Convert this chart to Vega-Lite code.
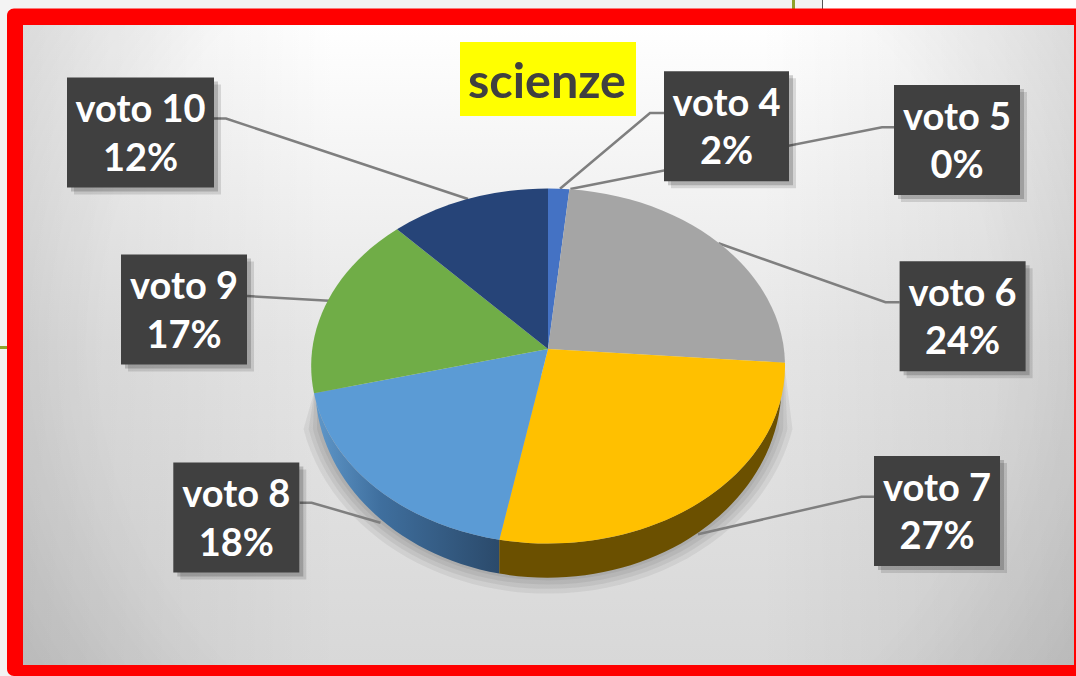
{
"$schema":"https://vega.github.io/schema/vega-lite/v6.json",
"width":1076,"height":676,
"autosize":{"type":"fit","contains":"padding"},
"padding":0,
"background":"#f3f3f3",
"config":{"view":{"stroke":null},"axis":{"disable":true}},
"datasets":{
"voti":[
{"voto":"voto 4","pct":0.02},
{"voto":"voto 5","pct":0},
{"voto":"voto 6","pct":0.24},
{"voto":"voto 7","pct":0.27},
{"voto":"voto 8","pct":0.18},
{"voto":"voto 9","pct":0.17},
{"voto":"voto 10","pct":0.12}
],
"richiami":[
{"voto":"voto 10","nodo":1},{"voto":"voto 10","nodo":2},{"voto":"voto 10","nodo":3},
{"voto":"voto 9","nodo":4},{"voto":"voto 9","nodo":5},
{"voto":"voto 8","nodo":6},{"voto":"voto 8","nodo":7},{"voto":"voto 8","nodo":8},
{"voto":"voto 4","nodo":9},{"voto":"voto 4","nodo":10},{"voto":"voto 4","nodo":11},
{"voto":"voto 5","nodo":12},{"voto":"voto 5","nodo":13},{"voto":"voto 5","nodo":14},
{"voto":"voto 6","nodo":15},{"voto":"voto 6","nodo":16},{"voto":"voto 6","nodo":17},
{"voto":"voto 7","nodo":18},{"voto":"voto 7","nodo":19},{"voto":"voto 7","nodo":20}
],
"titolo":[{"titolo":"scienze"}]
},
"data":{"name":"voti"},
"resolve":{"scale":{"x":"independent","y":"independent","shape":"independent","fill":"independent"}},
"layer":[
{"data":{"name":"titolo"},"mark":{"type":"rect","color":"#ffffff"},
 "encoding":{"x":{"datum":823,"type":"quantitative","scale":{"domain":[0,1076],"range":[0,1076]}},"x2":{"datum":1076},
 "y":{"datum":0,"type":"quantitative","scale":{"domain":[0,676],"range":[0,676]}},"y2":{"datum":10}}},
{"data":{"name":"titolo"},"mark":{"type":"rect","color":"#8fa32a"},
 "encoding":{"x":{"datum":792,"type":"quantitative","scale":{"domain":[0,1076],"range":[0,1076]}},"x2":{"datum":795},
 "y":{"datum":0,"type":"quantitative","scale":{"domain":[0,676],"range":[0,676]}},"y2":{"datum":10}}},
{"data":{"name":"titolo"},"mark":{"type":"rect","color":"#555555"},
 "encoding":{"x":{"datum":822,"type":"quantitative","scale":{"domain":[0,1076],"range":[0,1076]}},"x2":{"datum":823},
 "y":{"datum":0,"type":"quantitative","scale":{"domain":[0,676],"range":[0,676]}},"y2":{"datum":10}}},
{"data":{"name":"titolo"},"mark":{"type":"rect","color":"#8fa32a"},
 "encoding":{"x":{"datum":0,"type":"quantitative","scale":{"domain":[0,1076],"range":[0,1076]}},"x2":{"datum":8},
 "y":{"datum":346,"type":"quantitative","scale":{"domain":[0,676],"range":[0,676]}},"y2":{"datum":349}}},
{"data":{"name":"titolo"},"mark":{"type":"rect","color":"#ff0000","cornerRadiusTopLeft":7,"cornerRadiusBottomLeft":7},
 "encoding":{"x":{"datum":7,"type":"quantitative","scale":{"domain":[0,1076],"range":[0,1076]}},"x2":{"datum":1076},
 "y":{"datum":8.5,"type":"quantitative","scale":{"domain":[0,676],"range":[0,676]}},"y2":{"datum":676}}},
{"data":{"name":"titolo"},"mark":{"type":"rect","color":{"gradient":"linear","x1":0,"y1":0,"x2":0,"y2":1,"stops":[{"offset":0,"color":"#ffffff"},{"offset":0.5,"color":"#e6e6e6"},{"offset":1,"color":"#d8d8d8"}]}},
 "encoding":{"x":{"datum":23,"type":"quantitative","scale":{"domain":[0,1076],"range":[0,1076]}},"x2":{"datum":1074},
 "y":{"datum":25,"type":"quantitative","scale":{"domain":[0,676],"range":[0,676]}},"y2":{"datum":665}}},
{"data":{"name":"titolo"},"mark":{"type":"rect","color":{"gradient":"linear","x1":0,"y1":0,"x2":1,"y2":0,"stops":[{"offset":0,"color":"rgba(0,0,0,0.08)"},{"offset":0.3,"color":"rgba(0,0,0,0)"},{"offset":0.7,"color":"rgba(0,0,0,0)"},{"offset":1,"color":"rgba(0,0,0,0.08)"}]}},
 "encoding":{"x":{"datum":23,"type":"quantitative","scale":{"domain":[0,1076],"range":[0,1076]}},"x2":{"datum":1074},
 "y":{"datum":25,"type":"quantitative","scale":{"domain":[0,676],"range":[0,676]}},"y2":{"datum":665}}},
{"data":{"name":"titolo"},"mark":{"type":"rect","color":{"gradient":"radial","x1":0.5,"y1":0.5,"r1":0,"x2":0.5,"y2":0.5,"r2":0.71,"stops":[{"offset":0.6,"color":"rgba(0,0,0,0)"},{"offset":1,"color":"rgba(0,0,0,0.12)"}]}},
 "encoding":{"x":{"datum":23,"type":"quantitative","scale":{"domain":[0,1076],"range":[0,1076]}},"x2":{"datum":1074},
 "y":{"datum":25,"type":"quantitative","scale":{"domain":[0,676],"range":[0,676]}},"y2":{"datum":665}}},
{"transform":[{"filter":"datum.voto === 'voto 7'"}],
 "mark":{"type":"point","filled":true,"opacity":0.06,"strokeWidth":0,"size":4,"color":"#000000",
 "shape":"M-233,40 L-244.5,80 A250,208 0 0 0 244.5,80 L236,12 Z"},
 "encoding":{"x":{"datum":548,"type":"quantitative","scale":{"domain":[0,1076],"range":[0,1076]}},"y":{"datum":349,"type":"quantitative","scale":{"domain":[0,676],"range":[0,676]}}}},
{"transform":[{"filter":"datum.voto === 'voto 7'"}],
 "mark":{"type":"point","filled":true,"opacity":0.06,"strokeWidth":0,"size":4,"color":"#000000",
 "shape":"M-233,40 L-239.4,80 A245,203 0 0 0 239.4,80 L236,12 Z"},
 "encoding":{"x":{"datum":548,"type":"quantitative","scale":{"domain":[0,1076],"range":[0,1076]}},"y":{"datum":349,"type":"quantitative","scale":{"domain":[0,676],"range":[0,676]}}}},
{"transform":[{"filter":"datum.voto === 'voto 7'"}],
 "mark":{"type":"point","filled":true,"opacity":0.06,"strokeWidth":0,"size":4,"color":"#000000",
 "shape":"M-233,40 L-235.2,80 A241,199 0 0 0 235.2,80 L236,12 Z"},
 "encoding":{"x":{"datum":548,"type":"quantitative","scale":{"domain":[0,1076],"range":[0,1076]}},"y":{"datum":349,"type":"quantitative","scale":{"domain":[0,676],"range":[0,676]}}}},
{"transform":[{"filter":"datum.voto === 'voto 7'"}],
 "mark":{"type":"point","filled":true,"opacity":0.06,"strokeWidth":0,"size":4,"color":"#000000",
 "shape":"M-231,40 L-231,80 A237,195 0 0 0 231,80 L231,12 Z"},
 "encoding":{"x":{"datum":548,"type":"quantitative","scale":{"domain":[0,1076],"range":[0,1076]}},"y":{"datum":349,"type":"quantitative","scale":{"domain":[0,676],"range":[0,676]}}}},
{"data":{"name":"richiami"},"mark":{"type":"line","color":"#7f7f7f","strokeWidth":2.5},
 "encoding":{
 "x":{"field":"nodo","type":"quantitative","scale":{"domain":[1,2,3,4,5,6,7,8,9,10,11,12,13,14,15,16,17,18,19,20],"range":[214,226,468,247,329,299.6,311.6,380.5,664,650,560,894,882,570.4,899.6,885.5,718.5,874,861.4,698]}},
 "y":{"field":"nodo","type":"quantitative","scale":{"domain":[1,2,3,4,5,6,7,8,9,10,11,12,13,14,15,16,17,18,19,20],"range":[118.5,118.5,199,296,300.7,502.7,502.7,522.7,113,113,188.7,127.3,127.3,189,302.3,302.3,243.3,496.7,496.7,534.3]}},
 "detail":{"field":"voto"},"order":{"field":"nodo"}}},
{"transform":[{"filter":"datum.voto === 'voto 8'"}],
 "mark":{"type":"point","filled":true,"opacity":1,"strokeWidth":0,"size":4,
 "shape":"M-232,53 A237,177.5 0 0 0 -48.7,190.7 L-48.7,224.6 A234,192 0 0 1 -232,53 Z",
 "fill":{"gradient":"linear","x1":0,"y1":0,"x2":1,"y2":0,"stops":[{"offset":0,"color":"#5f97c9"},{"offset":0.35,"color":"#3f6f9e"},{"offset":1,"color":"#2b4a6b"}]}},
 "encoding":{"x":{"datum":548,"type":"quantitative","scale":{"domain":[0,1076],"range":[0,1076]}},"y":{"datum":349,"type":"quantitative","scale":{"domain":[0,676],"range":[0,676]}}}},
{"transform":[{"filter":"datum.voto === 'voto 7'"}],
 "mark":{"type":"point","filled":true,"opacity":1,"strokeWidth":0,"size":4,
 "shape":"M-48.7,190.7 A237,177.5 0 0 0 233,49.5 A234,192 0 0 1 -48.7,224.6 Z",
 "fill":"#6b5000"},
 "encoding":{"x":{"datum":548,"type":"quantitative","scale":{"domain":[0,1076],"range":[0,1076]}},"y":{"datum":349,"type":"quantitative","scale":{"domain":[0,676],"range":[0,676]}}}},
{"transform":[{"filter":"datum.pct > 0"}],
 "mark":{"type":"point","filled":true,"opacity":1,"strokeWidth":0,"size":4},
 "encoding":{
 "x":{"datum":548,"type":"quantitative","scale":{"domain":[0,1076],"range":[0,1076]}},
 "y":{"datum":349,"type":"quantitative","scale":{"domain":[0,676],"range":[0,676]}},
 "fill":{"field":"voto","type":"nominal","legend":null,"scale":{"domain":["voto 4","voto 6","voto 7","voto 8","voto 9","voto 10"],"range":["#4472c4","#a5a5a5","#ffc000","#5b9bd5","#70ad47","#264478"]}},
 "shape":{"field":"voto","type":"nominal","legend":null,"scale":{"domain":["voto 4","voto 6","voto 7","voto 8","voto 9","voto 10"],"range":[
 "M0,0 L0,-160.5 A237,177.5 0 0 1 21.4,-159.8 Z",
 "M0,0 L21.4,-159.8 A237,177.5 0 0 1 237,13.7 Z",
 "M0,0 L237,13.7 A237,177.5 0 0 1 -48.7,190.7 Z",
 "M0,0 L-48.7,190.7 A237,177.5 0 0 1 -234,44.3 Z",
 "M0,0 L-234,44.3 A237,177.5 0 0 1 -151,-119.7 Z",
 "M0,0 L-151,-119.7 A237,177.5 0 0 1 0,-160.5 Z"]}}}},
{"mark":{"type":"point","filled":true,"opacity":0.12,"strokeWidth":0,"size":4,"color":"#000000","xOffset":7,"yOffset":7},
 "encoding":{
 "x":{"field":"pct","type":"quantitative","scale":{"domain":[0,0.02,0.12,0.17,0.18,0.24,0.27],"range":[957,726.5,140.5,184,236.3,962.6,937]}},
 "y":{"field":"pct","type":"quantitative","scale":{"domain":[0,0.02,0.12,0.17,0.18,0.24,0.27],"range":[140,126.3,132.5,309.5,517.5,316.3,511]}},
 "shape":{"field":"voto","type":"nominal","legend":null,"scale":{"domain":["voto 4","voto 5","voto 6","voto 7","voto 8","voto 9","voto 10"],"range":["M-62.5,-55H62.5V55H-62.5Z","M-63,-55H63V55H-63Z","M-63,-55H63V55H-63Z","M-63,-55H63V55H-63Z","M-63,-55H63V55H-63Z","M-63,-55H63V55H-63Z","M-73.5,-55H73.5V55H-73.5Z"]}}}},
{"mark":{"type":"point","filled":true,"opacity":0.18,"strokeWidth":0,"size":4,"color":"#000000","xOffset":4,"yOffset":4},
 "encoding":{
 "x":{"field":"pct","type":"quantitative","scale":{"domain":[0,0.02,0.12,0.17,0.18,0.24,0.27],"range":[957,726.5,140.5,184,236.3,962.6,937]}},
 "y":{"field":"pct","type":"quantitative","scale":{"domain":[0,0.02,0.12,0.17,0.18,0.24,0.27],"range":[140,126.3,132.5,309.5,517.5,316.3,511]}},
 "shape":{"field":"voto","type":"nominal","legend":null,"scale":{"domain":["voto 4","voto 5","voto 6","voto 7","voto 8","voto 9","voto 10"],"range":["M-62.5,-55H62.5V55H-62.5Z","M-63,-55H63V55H-63Z","M-63,-55H63V55H-63Z","M-63,-55H63V55H-63Z","M-63,-55H63V55H-63Z","M-63,-55H63V55H-63Z","M-73.5,-55H73.5V55H-73.5Z"]}}}},
{"mark":{"type":"point","filled":true,"opacity":1,"strokeWidth":0,"size":4,"color":"#404040"},
 "encoding":{
 "x":{"field":"pct","type":"quantitative","scale":{"domain":[0,0.02,0.12,0.17,0.18,0.24,0.27],"range":[957,726.5,140.5,184,236.3,962.6,937]}},
 "y":{"field":"pct","type":"quantitative","scale":{"domain":[0,0.02,0.12,0.17,0.18,0.24,0.27],"range":[140,126.3,132.5,309.5,517.5,316.3,511]}},
 "shape":{"field":"voto","type":"nominal","legend":null,"scale":{"domain":["voto 4","voto 5","voto 6","voto 7","voto 8","voto 9","voto 10"],"range":["M-62.5,-55H62.5V55H-62.5Z","M-63,-55H63V55H-63Z","M-63,-55H63V55H-63Z","M-63,-55H63V55H-63Z","M-63,-55H63V55H-63Z","M-63,-55H63V55H-63Z","M-73.5,-55H73.5V55H-73.5Z"]}}}},
{"mark":{"type":"text","font":"Lato","fontWeight":"bold","fontSize":38,"color":"#ffffff","baseline":"middle","align":"center","yOffset":-21.5},
 "encoding":{
 "x":{"field":"pct","type":"quantitative","scale":{"domain":[0,0.02,0.12,0.17,0.18,0.24,0.27],"range":[957,726.5,140.5,184,236.3,962.6,937]}},
 "y":{"field":"pct","type":"quantitative","scale":{"domain":[0,0.02,0.12,0.17,0.18,0.24,0.27],"range":[140,126.3,132.5,309.5,517.5,316.3,511]}},
 "text":{"field":"voto","type":"nominal"}}},
{"mark":{"type":"text","font":"Lato","fontWeight":"bold","fontSize":38,"color":"#ffffff","baseline":"middle","align":"center","yOffset":27},
 "encoding":{
 "x":{"field":"pct","type":"quantitative","scale":{"domain":[0,0.02,0.12,0.17,0.18,0.24,0.27],"range":[957,726.5,140.5,184,236.3,962.6,937]}},
 "y":{"field":"pct","type":"quantitative","scale":{"domain":[0,0.02,0.12,0.17,0.18,0.24,0.27],"range":[140,126.3,132.5,309.5,517.5,316.3,511]}},
 "text":{"field":"pct","type":"quantitative","format":".0%"}}},
{"data":{"name":"titolo"},"mark":{"type":"rect","color":"#ffff00"},
 "encoding":{"x":{"datum":460,"type":"quantitative","scale":{"domain":[0,1076],"range":[0,1076]}},"x2":{"datum":636},
 "y":{"datum":42,"type":"quantitative","scale":{"domain":[0,676],"range":[0,676]}},"y2":{"datum":116}}},
{"data":{"name":"titolo"},"mark":{"type":"text","font":"Lato","fontWeight":"bold","fontSize":48.5,"color":"#404040","baseline":"middle","align":"center"},
 "encoding":{"x":{"datum":547,"type":"quantitative","scale":{"domain":[0,1076],"range":[0,1076]}},
 "y":{"datum":83,"type":"quantitative","scale":{"domain":[0,676],"range":[0,676]}},
 "text":{"field":"titolo","type":"nominal"}}}
]
}
